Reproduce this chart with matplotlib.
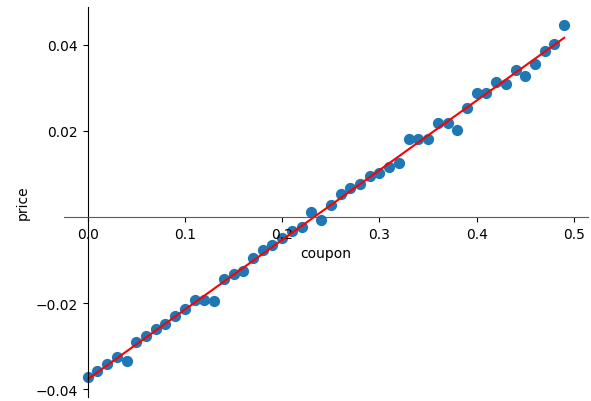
import numpy as np
import matplotlib
matplotlib.use("Agg")
import matplotlib.pyplot as plt

# coupon values 0.00 .. 0.49
coupon = np.arange(50) / 100.0
price = [-0.0372, -0.0358, -0.0342, -0.0324, -0.0333, -0.0291, -0.0275, -0.0259, -0.0247, -0.0229,
         -0.0213, -0.0192, -0.0192, -0.0194, -0.0143, -0.0132, -0.0125, -0.0095, -0.0076, -0.0065,
         -0.0049, -0.0032, -0.0023, 0.0012, -0.0007, 0.0028, 0.0053, 0.0067, 0.0076, 0.0095,
         0.0102, 0.0116, 0.0125, 0.0180, 0.0180, 0.0180, 0.0217, 0.0217, 0.0203, 0.0254,
         0.0287, 0.0287, 0.0314, 0.0308, 0.0340, 0.0326, 0.0354, 0.0386, 0.0402, 0.0446]
yticks = [-0.04, -0.02, 0.02, 0.04]

# linear fit for the red line
slope, intercept = np.polyfit(coupon, price, 1)
fit = slope * coupon + intercept

fig = plt.figure(figsize=(5.91, 4.02), dpi=100)
ax = fig.add_subplot(111)
fig.subplots_adjust(left=0.108, right=0.995, top=0.98, bottom=0.01)

ax.scatter(coupon, price, s=50, color='#1f77b4')
ax.plot(coupon, fit, color='red', lw=1.5)

ax.spines['left'].set_position('zero')
ax.spines['bottom'].set_position('zero')
ax.spines['bottom'].set_color('0.35')
ax.spines['top'].set_visible(False)
ax.spines['right'].set_visible(False)
ax.set_yticks(yticks)
ax.set_xlabel('coupon')
ax.set_ylabel('price')

fig.savefig('out.png', dpi=100)
